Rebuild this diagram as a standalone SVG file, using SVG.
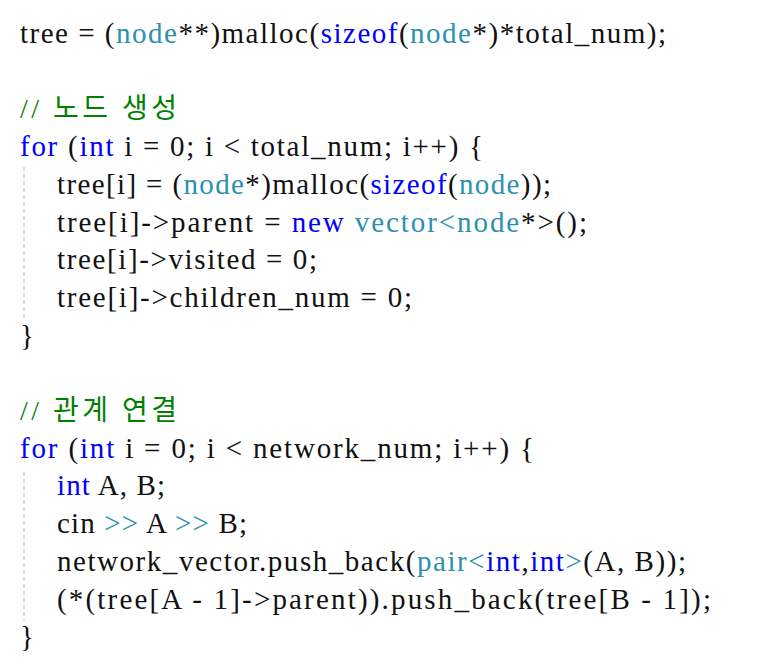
<svg xmlns="http://www.w3.org/2000/svg" width="779" height="671" viewBox="0 0 779 671">
<style>
text{font-family:"Liberation Serif","Noto Sans CJK KR",serif;font-size:29px;fill:#111}
.t{fill:#2B91AF}
.k{fill:#0000FF}
.c{fill:#008000;font-family:"Liberation Serif","Noto Sans CJK KR",serif;font-size:28px}
.guide{stroke:#c8c8c8;stroke-width:1.2;stroke-dasharray:4 3}
</style>
<rect width="779" height="671" fill="#ffffff"/>
<g id="guides">
<line class="guide" x1="24" y1="167" x2="24" y2="318"/>
<line class="guide" x1="24" y1="472" x2="24" y2="621"/>
</g>
<g id="code">
<text x="20" y="43" textLength="646" lengthAdjust="spacing">tree = (<tspan class="t">node</tspan>**)malloc(<tspan class="k">sizeof</tspan>(<tspan class="t">node</tspan>*)*total_num);</text>
<text class="c" x="20" y="118.4" textLength="157" lengthAdjust="spacing">// 노드 생성</text>
<text x="20" y="156.1" textLength="463" lengthAdjust="spacing"><tspan class="k">for</tspan> (<tspan class="k">int</tspan> i = 0; i &lt; total_num; i++) {</text>
<text x="57" y="193.8" textLength="494" lengthAdjust="spacing">tree[i] = (<tspan class="t">node</tspan>*)malloc(<tspan class="k">sizeof</tspan>(<tspan class="t">node</tspan>));</text>
<text x="57" y="231.5" textLength="530" lengthAdjust="spacing">tree[i]-&gt;parent = <tspan class="k">new</tspan> <tspan class="t">vector&lt;node</tspan>*&gt;();</text>
<text x="57" y="269.2" textLength="260" lengthAdjust="spacing">tree[i]-&gt;visited = 0;</text>
<text x="57" y="306.9" textLength="355" lengthAdjust="spacing">tree[i]-&gt;children_num = 0;</text>
<text x="20" y="344.6">}</text>
<text class="c" x="20" y="420" textLength="157" lengthAdjust="spacing">// 관계 연결</text>
<text x="20" y="457.7" textLength="514" lengthAdjust="spacing"><tspan class="k">for</tspan> (<tspan class="k">int</tspan> i = 0; i &lt; network_num; i++) {</text>
<text x="57" y="495.4" textLength="108" lengthAdjust="spacing"><tspan class="k">int</tspan> A, B;</text>
<text x="57" y="533.1" textLength="190" lengthAdjust="spacing">cin <tspan class="t">&gt;&gt;</tspan> A <tspan class="t">&gt;&gt;</tspan> B;</text>
<text x="57" y="570.8" textLength="629" lengthAdjust="spacing">network_vector.push_back(<tspan class="t">pair&lt;</tspan><tspan class="k">int</tspan>,<tspan class="k">int</tspan><tspan class="t">&gt;</tspan>(A, B));</text>
<text x="57" y="608.5" textLength="654" lengthAdjust="spacing">(*(tree[A - 1]-&gt;parent)).push_back(tree[B - 1]);</text>
<text x="20" y="646.2">}</text>
</g>
</svg>
